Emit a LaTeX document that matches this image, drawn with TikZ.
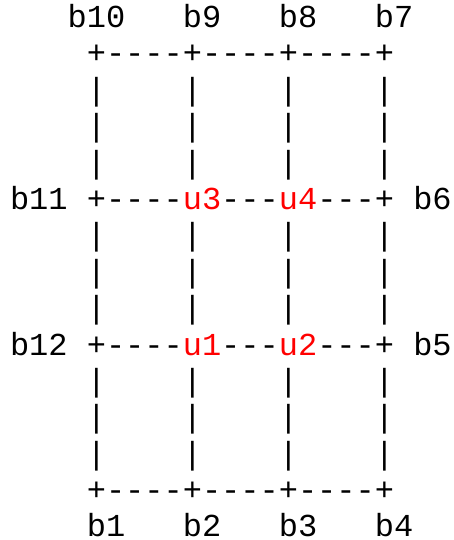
\documentclass[tikz,border=0pt]{standalone}
\usepackage{fontspec}
\setmonofont{Liberation Mono}
\tikzset{
    asciirow/.style={anchor=base west, inner sep=0pt, outer sep=0pt,
        font=\ttfamily\fontsize{32}{36}\selectfont},
}
\newcommand{\ured}[1]{\textcolor{red}{#1}}
\begin{document}
\begin{tikzpicture}[x=1pt, y=1pt]
    \useasboundingbox (0,0) rectangle (453,-540);
    \node[asciirow] (row0)  at (10,-27.5)  {~~~b10~~~b9~~~b8~~~b7};
    \node[asciirow] (row1)  at (10,-63.9)  {~~~~+----+----+----+};
    \node[asciirow] (row2)  at (10,-100.3) {~~~~|~~~~|~~~~|~~~~|};
    \node[asciirow] (row3)  at (10,-136.7) {~~~~|~~~~|~~~~|~~~~|};
    \node[asciirow] (row4)  at (10,-173.1) {~~~~|~~~~|~~~~|~~~~|};
    \node[asciirow] (row5)  at (10,-209.5) {b11~+----\ured{u3}---\ured{u4}---+~b6};
    \node[asciirow] (row6)  at (10,-245.9) {~~~~|~~~~|~~~~|~~~~|};
    \node[asciirow] (row7)  at (10,-282.3) {~~~~|~~~~|~~~~|~~~~|};
    \node[asciirow] (row8)  at (10,-318.7) {~~~~|~~~~|~~~~|~~~~|};
    \node[asciirow] (row9)  at (10,-355.1) {b12~+----\ured{u1}---\ured{u2}---+~b5};
    \node[asciirow] (row10) at (10,-391.5) {~~~~|~~~~|~~~~|~~~~|};
    \node[asciirow] (row11) at (10,-427.9) {~~~~|~~~~|~~~~|~~~~|};
    \node[asciirow] (row12) at (10,-464.3) {~~~~|~~~~|~~~~|~~~~|};
    \node[asciirow] (row13) at (10,-500.7) {~~~~+----+----+----+};
    \node[asciirow] (row14) at (10,-536.5) {~~~~b1~~~b2~~~b3~~~b4};
\end{tikzpicture}
\end{document}
